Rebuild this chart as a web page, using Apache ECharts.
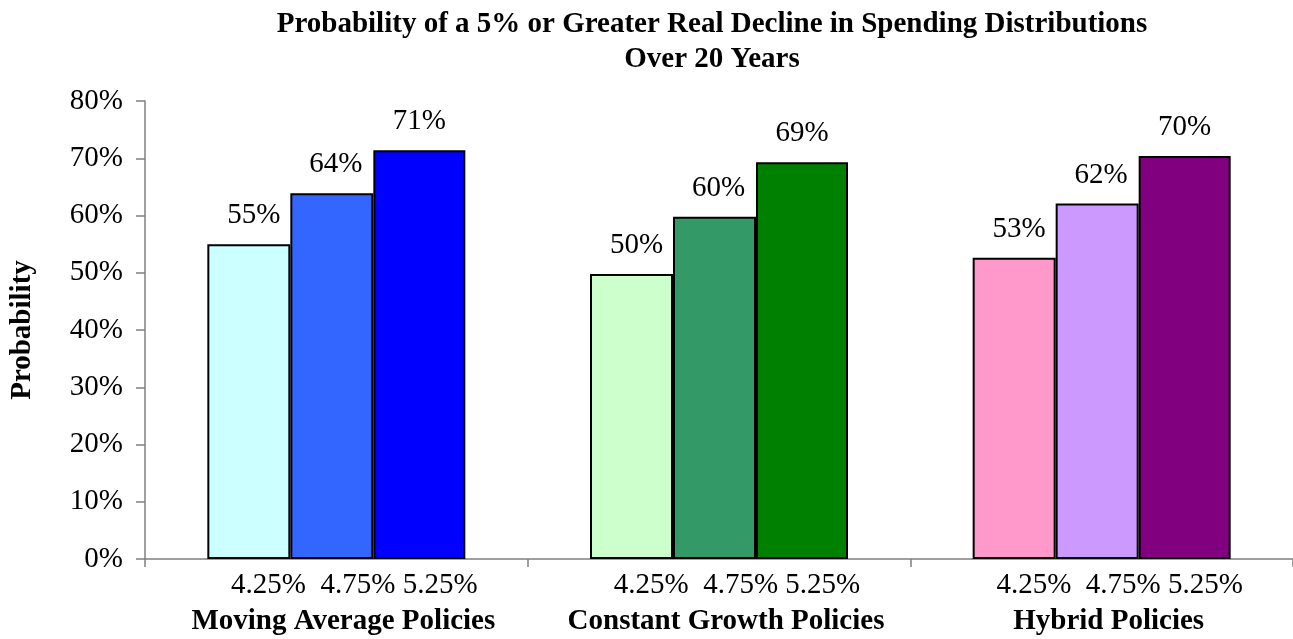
<!DOCTYPE html>
<html>
<head>
<meta charset="utf-8">
<script src="https://cdn.jsdelivr.net/npm/echarts@6/dist/echarts.min.js"></script>
<style>html,body{margin:0;padding:0;background:#fff;}#c{width:1293px;height:639px;}</style>
</head>
<body>
<div id="c"></div>
<script>
const titleText = 'Probability of a 5% or Greater Real Decline in Spending Distributions\nOver 20 Years';
const yAxisName = 'Probability';
const groups = ['Moving Average Policies', 'Constant Growth Policies', 'Hybrid Policies'];
const rates = ['4.25%', '4.75%', '5.25%'];
const rate425 = [55.0, 49.8, 52.6];
const rate475 = [63.9, 59.8, 62.1];
const rate525 = [71.4, 69.3, 70.4];
const yTicks = [0, 10, 20, 30, 40, 50, 60, 70, 80];

const colors425 = ['#CCFFFF', '#CCFFCC', '#FF99CC'];
const colors475 = ['#3366FF', '#339966', '#CC99FF'];
const colors525 = ['#0000FF', '#008000', '#800080'];

const FONT = '"Liberation Serif", "Times New Roman", serif';
const FS = 29;

function barSeries(name, data, colors, width, labelDx) {
  return {
    name: name,
    type: 'bar',
    data: data,
    barWidth: width,
    barGap: '0%',
    itemStyle: {
      color: function (p) { return colors[p.dataIndex]; },
      borderColor: '#000',
      borderWidth: 2
    },
    label: {
      show: true,
      position: 'top',
      distance: 14,
      offset: [labelDx, 0],
      formatter: function (p) { return Math.round(p.value) + '%'; },
      fontFamily: FONT,
      fontSize: FS,
      color: '#000'
    }
  };
}

const chart = echarts.init(document.getElementById('c'), null, { renderer: 'canvas' });
chart.setOption({
  animation: false,
  backgroundColor: '#fff',
  title: {
    text: titleText,
    left: 712,
    top: 7,
    textAlign: 'center',
    padding: 0,
    textStyle: { fontFamily: FONT, fontSize: FS, fontWeight: 'bold', color: '#000', lineHeight: 35 }
  },
  grid: { left: 143.5, top: 101, width: 1155, bottom: 80, containLabel: false },
  xAxis: {
    type: 'category',
    data: groups,
    axisLine: { show: true, lineStyle: { color: '#808080', width: 1.5 } },
    axisTick: { show: true, length: 8, lineStyle: { color: '#808080', width: 1.5 } },
    axisLabel: {
      interval: 0,
      margin: 8,
      formatter: function (v) {
        return '{a|' + rates[0] + '  ' + rates[1] + ' ' + rates[2] + '}\n{b|' + v + '}';
      },
      rich: {
        a: { fontFamily: FONT, fontSize: FS, color: '#000', lineHeight: 36, padding: [0, 0, 0, 36] },
        b: { fontFamily: FONT, fontSize: FS, fontWeight: 'bold', color: '#000', lineHeight: 37, padding: [0, 0, 0, 14] }
      }
    }
  },
  yAxis: {
    type: 'value',
    min: 0,
    max: 80,
    interval: 10,
    name: yAxisName,
    nameLocation: 'middle',
    nameRotate: 90,
    nameGap: 108,
    nameTextStyle: { fontFamily: FONT, fontSize: FS, fontWeight: 'bold', color: '#000' },
    axisLine: { show: true, lineStyle: { color: '#808080', width: 1.5 } },
    axisTick: { show: true, length: 9, lineStyle: { color: '#808080', width: 1.5 } },
    splitLine: { show: false },
    axisLabel: {
      margin: 22,
      formatter: function (v) { return yTicks.indexOf(v) >= 0 ? v + '%' : ''; },
      fontFamily: FONT,
      fontSize: FS,
      color: '#000'
    }
  },
  series: [
    barSeries(rates[0], rate425, colors425, 83, 5),
    barSeries(rates[1], rate475, colors475, 83, 4),
    barSeries(rates[2], rate525, colors525, 92, 0)
  ]
});
</script>
</body>
</html>
